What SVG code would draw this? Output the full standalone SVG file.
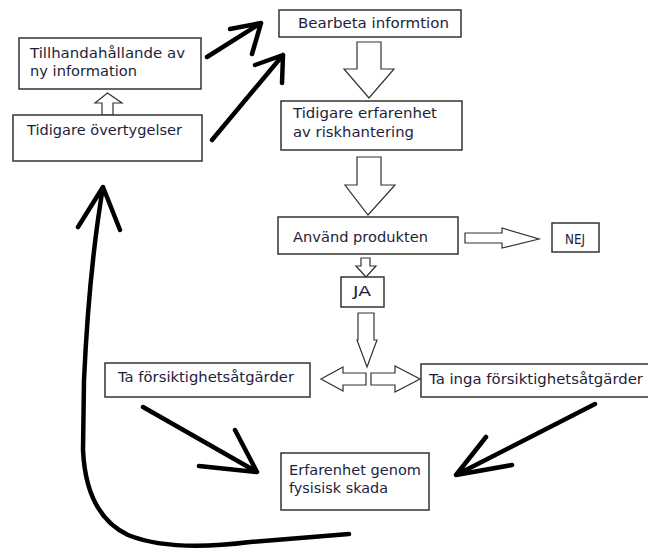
<svg xmlns="http://www.w3.org/2000/svg" width="648" height="549" viewBox="0 0 648 549">
<style>
.box{fill:#fff;stroke:#333;stroke-width:1.5}
.t{font-family:"DejaVu Sans",sans-serif;font-size:13.5px;fill:#1e1e3c}
.hollow{fill:#fff;stroke:#333;stroke-width:1.2;stroke-linejoin:miter}
.ink{fill:none;stroke:#000;stroke-width:4.5;stroke-linecap:round;stroke-linejoin:round}
</style>
<rect width="648" height="549" fill="#fff"/>
<g id="connectors">
<polygon class="hollow" points="102,115 102,103 95,103 107.5,93 122,103 113,103 113,115"/>
<polygon class="hollow" points="357,42 381,42 381,69 394,69 369,98 344,69 357,69"/>
<polygon class="hollow" points="357,157 381,157 381,185 395,185 368,215 345,185 357,185"/>
<polygon class="hollow" points="465,233 502,233 502,228 539,239 502,248 502,243 465,243"/>
<polygon class="hollow" points="361,258 370,258 370,266 376,266 366,277 356,266 361,266"/>
<polygon class="hollow" points="358,313 374,313 374,340 377,340 367,367 357,340 358,340"/>
<polygon class="hollow" points="366,373 343,373 343,367 321,379 343,391 343,385 366,385"/>
<polygon class="hollow" points="371,373 395,373 395,366 420,379 395,392 395,385 371,385"/>
<path class="ink" d="M207,57 L261,23 M230,29 L261,23 L252,54"/>
<path class="ink" d="M212,140 L283,55 M255,65 L283,55 L282,83"/>
<path class="ink" d="M143,407 L257,472 M235,430 L257,472 L199,466"/>
<path class="ink" d="M595,404 L456,475 M486,437 L456,475 L512,465"/>
<path class="ink" d="M349,534 L250,542 Q170,552 128,535 Q86,515 83,450 L84,380 Q89,270 103,187 M78,227 L103,187 L120,230"/>
</g>
<g id="n-tillhanda">
<rect class="box" x="19" y="38" width="182" height="51"/>
<text class="t" x="30" y="58" textLength="155" lengthAdjust="spacingAndGlyphs">Tillhandahållande av</text>
<text class="t" x="30" y="76" textLength="107" lengthAdjust="spacingAndGlyphs">ny information</text>
</g>
<g id="n-overtyg">
<rect class="box" x="13" y="115" width="189" height="46"/>
<text class="t" x="27" y="135" textLength="155" lengthAdjust="spacingAndGlyphs">Tidigare övertygelser</text>
</g>
<g id="n-bearbeta">
<rect class="box" x="279" y="10" width="182" height="27"/>
<text class="t" x="298" y="28" textLength="151" lengthAdjust="spacingAndGlyphs">Bearbeta informtion</text>
</g>
<g id="n-erfarenhet">
<rect class="box" x="281" y="101" width="181" height="49"/>
<text class="t" x="293" y="118" textLength="144" lengthAdjust="spacingAndGlyphs">Tidigare erfarenhet</text>
<text class="t" x="293" y="137" textLength="121" lengthAdjust="spacingAndGlyphs">av riskhantering</text>
</g>
<g id="n-anvand">
<rect class="box" x="278" y="217" width="180" height="37"/>
<text class="t" x="293" y="242" textLength="135" lengthAdjust="spacingAndGlyphs">Använd produkten</text>
</g>
<g id="n-nej">
<rect class="box" x="552" y="223" width="47" height="29"/>
<text class="t" x="565" y="244" textLength="20" lengthAdjust="spacingAndGlyphs">NEJ</text>
</g>
<g id="n-ja">
<rect class="box" x="341" y="277" width="43" height="30"/>
<text class="t" x="353" y="296" textLength="18" lengthAdjust="spacingAndGlyphs">JA</text>
</g>
<g id="n-ta">
<rect class="box" x="105" y="363" width="205" height="34"/>
<text class="t" x="118" y="382" textLength="176" lengthAdjust="spacingAndGlyphs">Ta försiktighetsåtgärder</text>
</g>
<g id="n-tainga">
<rect class="box" x="421" y="364" width="232" height="33"/>
<text class="t" x="429" y="384" textLength="214" lengthAdjust="spacingAndGlyphs">Ta inga försiktighetsåtgärder</text>
</g>
<g id="n-skada">
<rect class="box" x="281" y="453" width="148" height="57"/>
<text class="t" x="289" y="475" textLength="132" lengthAdjust="spacingAndGlyphs">Erfarenhet genom</text>
<text class="t" x="289" y="493" textLength="99" lengthAdjust="spacingAndGlyphs">fysisisk skada</text>
</g>
</svg>
